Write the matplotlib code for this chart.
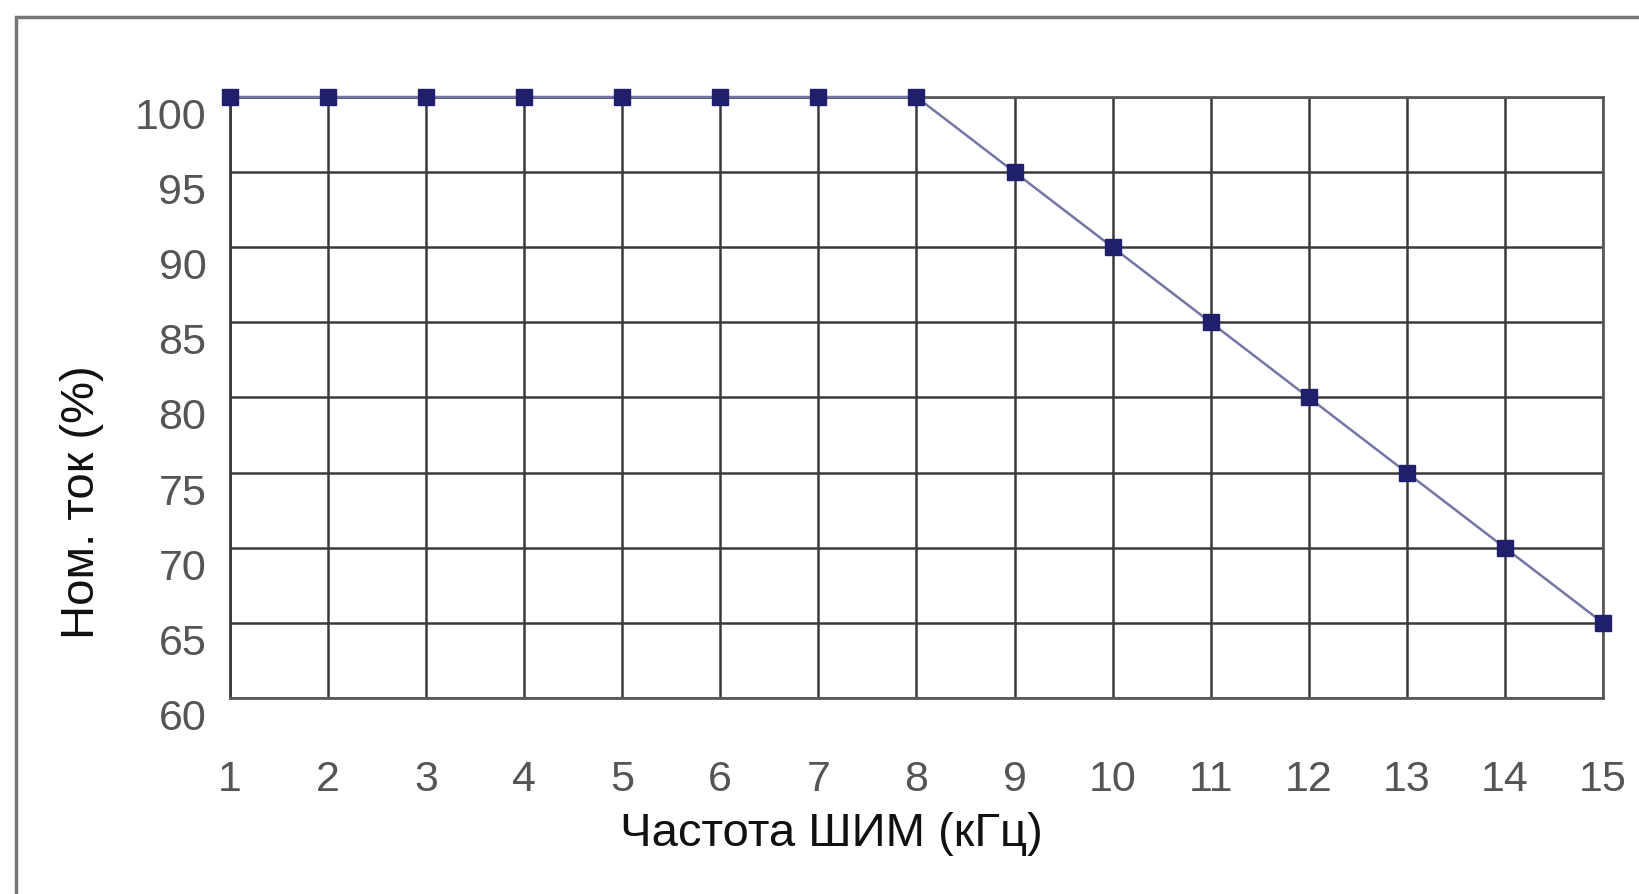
import matplotlib.pyplot as plt
from matplotlib.patches import Rectangle

# частота ШИМ (кГц) и номинальный ток (%)
freq = [1, 2, 3, 4, 5, 6, 7, 8, 9, 10, 11, 12, 13, 14, 15]
tok = [100, 100, 100, 100, 100, 100, 100, 100, 95, 90, 85, 80, 75, 70, 65]
yticks = [60, 65, 70, 75, 80, 85, 90, 95, 100]

plt.rcParams['font.family'] = ['Liberation Sans', 'DejaVu Sans']

fig = plt.figure(figsize=(16.4, 8.95), dpi=100)
ax = fig.add_axes([0.1402, 0.219, 0.8372, 0.6715])

# рамка вокруг рисунка
fig.patches.append(Rectangle((0.0098, -0.05), 1.2, 1.03, transform=fig.transFigure,
                             fill=False, edgecolor='#777777', lw=2.5))

ax.plot(freq, tok, color='#7575a5', lw=1.8, marker='s', markersize=11,
        markerfacecolor='#1f1f6b', markeredgecolor='#1f1f6b', clip_on=False, zorder=5)

ax.set_xlim(1, 15)
ax.set_ylim(60, 100)
ax.set_xticks(freq)
ax.set_yticks(yticks)
ax.grid(True, color='#3a3a3a', lw=1.8)
ax.set_axisbelow(True)
for s in ax.spines.values():
    s.set_color('#5a5a5a')
    s.set_linewidth(2)
ax.spines['left'].set_color('#3a3a3a')

ax.tick_params(axis='both', length=0, labelsize=31, colors='#555555')
ax.tick_params(axis='x', pad=44)
ax.tick_params(axis='y', pad=17)
for lab in ax.get_yticklabels():
    lab.set_verticalalignment('top')

ax.set_xlabel('Частота ШИМ (кГц)', fontsize=34, color='#111111', va='center')
ax.set_ylabel('Ном. ток (%)', fontsize=34, color='#111111', va='center')
ax.xaxis.set_label_coords(0.438, -0.2246)
ax.yaxis.set_label_coords(-0.1078, 0.3275)

fig.savefig('out.png', dpi=100)
